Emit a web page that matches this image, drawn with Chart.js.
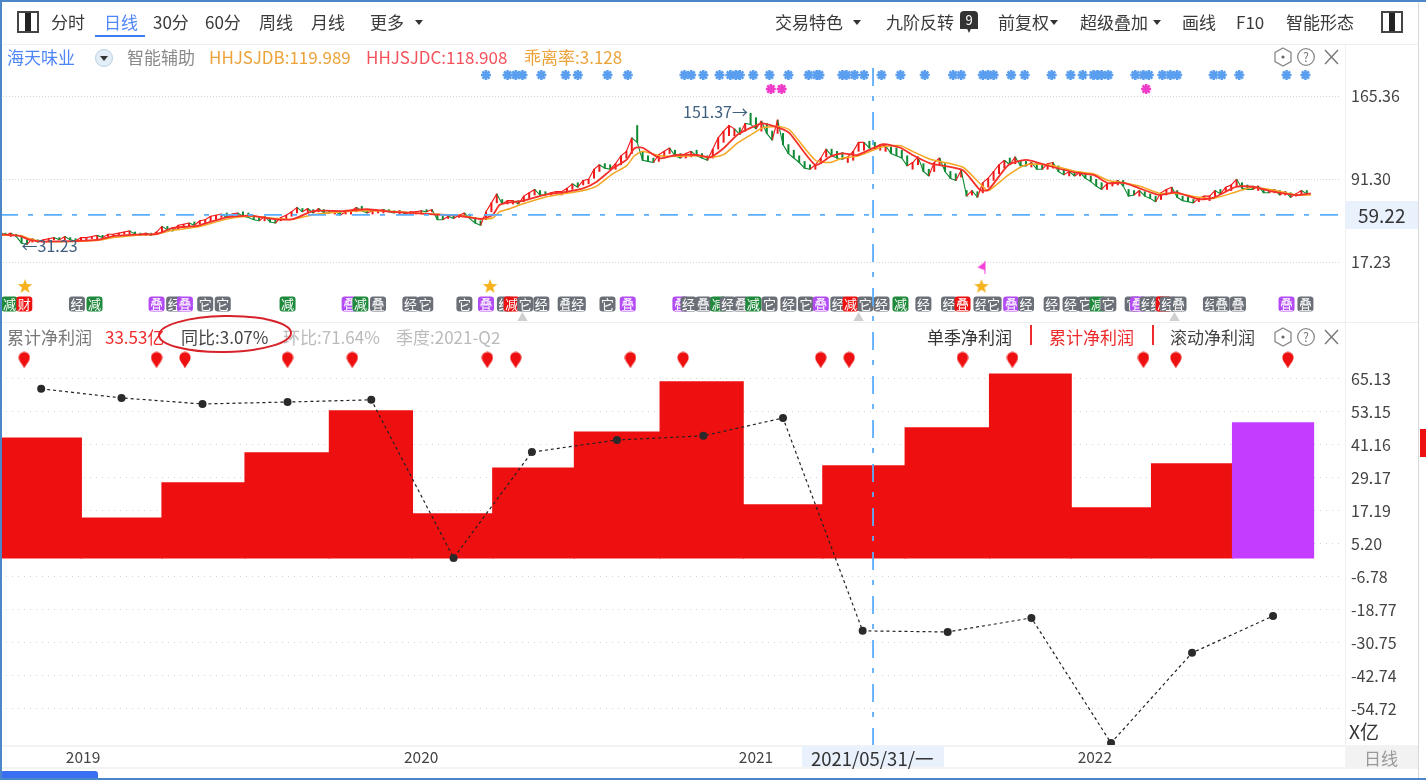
<!DOCTYPE html>
<html>
<head>
<meta charset="utf-8">
<script src="https://cdn.jsdelivr.net/npm/chart.js@4"></script>
<style>
html, body { margin: 0; padding: 0; background: #fff; }
body { width: 1426px; height: 780px; overflow: hidden; position: relative; font-family: "Noto Sans CJK SC", sans-serif; color: #3a3a3a; }
#c { position: absolute; left: 0; top: 0; }
.t { position: absolute; white-space: nowrap; line-height: 20px; height: 20px; margin-top: -10px; font-size: 17px; }
.r { position: absolute; }
.ic { position: absolute; }
</style>
</head>
<body>
<div class="r" style="left:0;top:44px;width:1418px;height:1px;background:#eeeeee"></div>
<div class="r" style="left:0;top:322px;width:1418px;height:1px;background:#eeeeee"></div>
<div class="r" style="left:0;top:745px;width:1418px;height:2px;background:#f3f3f3"></div>
<div class="r" style="left:0;top:767px;width:1418px;height:2px;background:#f3f3f3"></div>
<div class="r" style="left:1345px;top:45px;width:1px;height:700px;background:#efefef"></div>
<div class="r" style="left:1418px;top:0;width:1px;height:780px;background:#d8d8d8"></div>
<div class="r" style="left:1345px;top:201px;width:73px;height:28px;background:#e9f1fd"></div>
<div class="r" style="left:802px;top:746px;width:142px;height:21px;background:#e9f1fd"></div>
<div class="r" style="left:1345px;top:746px;width:73px;height:21px;background:#f2f2f2"></div>
<div class="r" style="left:1420px;top:429px;width:6px;height:28px;background:#ee1111"></div>
<div class="r" style="left:0;top:771px;width:98px;height:9px;background:#3a6ff2;border-radius:3px 3px 0 0"></div>
<canvas id="c" width="1426" height="780"></canvas>
<div id="labels"></div>
<div class="r" style="left:0;top:0;width:1426px;height:2px;background:#4a86c8"></div>
<div class="r" style="left:0;top:0;width:2px;height:780px;background:#4a86c8"></div>
<div class="r" style="left:0;top:778px;width:1426px;height:2px;background:#4a86c8"></div>
<svg class="ic" width="1426" height="780" style="left:0;top:0;pointer-events:none">
  <ellipse cx="225" cy="334" rx="66" ry="18" fill="none" stroke="#d8222a" stroke-width="2" transform="rotate(-1 225 334)"/>
</svg>
<script>
// x axis unit is trading days since the left edge of the chart
var yearLabels = ["2019", "2020", "2021", "2022"];
var yearDays = [61.5, 312, 560, 811];

// lower panel: 累计净利润 (bars) and 同比 (dots)
var quarterDays = [30.5, 90, 150, 213, 275, 336, 394, 457, 521, 580, 639, 702, 764, 823, 883, 943];
var profitValues = [43.6, 14.5, 27.3, 38.2, 53.5, 16, 32.7, 45.8, 64, 19.3, 33.53, 47.3, 66.9, 18.2, 34.2, 49.1];
var forecastFlags = [0, 0, 0, 0, 0, 0, 0, 0, 0, 0, 0, 0, 0, 0, 0, 1];
var yoyValues = [61.5, 58.2, 56, 56.7, 57.5, 0, 38.5, 42.9, 44.4, 50.9, -26.5, -26.9, -21.8, -67.3, -34.5, -21.1];
var profitTicks = [65.13, 53.15, 41.16, 29.17, 17.19, 5.20, -6.78, -18.77, -30.75, -42.74, -54.72];
var reportDays = [18, 116, 137, 213, 261, 361, 382, 467, 506, 608, 629, 713, 750, 847, 871, 954];

// upper panel: price
var priceTicks = [17.23, 91.30, 165.36];
var crossDay = 646.7;
var crossPrice = 59.22;

var maDays = [0, 15, 22, 32, 72, 84, 106, 116, 128, 146, 153, 168, 185, 205, 217, 232, 254, 272, 289, 321, 341, 356, 365, 370, 378, 387, 405, 417, 432, 442, 454, 464, 470, 476, 489, 501, 516, 526, 536, 546, 558, 565, 578, 585, 604, 615, 624, 635, 654, 667, 676, 689, 713, 726, 732, 747, 760, 777, 797, 810, 821, 832, 844, 859, 871, 888, 899, 916, 928, 943, 960, 971];
var maRed = [42, 40.4, 36.9, 35.4, 36.9, 40.4, 42, 42.2, 47.6, 49.4, 52, 57.1, 58.6, 55.3, 55.6, 62.7, 62.7, 64.3, 62.1, 59.8, 58.3, 55.6, 59.2, 68.1, 70.5, 71.7, 77.6, 79.4, 83, 88.9, 100.8, 108.3, 118.7, 119.2, 109.8, 112.7, 112.7, 110.7, 118.7, 130.6, 138, 141, 136.5, 132.1, 103.8, 111.2, 114.2, 112.7, 122.3, 119.2, 112.7, 105.3, 99.3, 81.5, 81.5, 103.8, 108.3, 102.9, 96.9, 94.9, 87.5, 88, 83, 77, 79.4, 73.2, 74.6, 84.4, 84.4, 80, 77, 78.5];
var maOrange = [41, 41, 38, 35.5, 36.4, 39, 41.5, 42, 45.5, 48.5, 50.5, 55.5, 58, 56, 55.3, 59.5, 62, 63, 62.6, 60, 58.8, 56, 56.5, 62, 65, 69, 75.5, 78, 81, 85, 96, 103, 112, 116, 112, 111.5, 112, 110.5, 113, 123, 132, 137, 138, 135, 108, 106, 110, 111.5, 120, 121, 116, 109, 102, 87, 81, 95, 104, 104, 98, 96, 90, 88, 85, 78.5, 78.5, 75, 74, 80, 84, 81.5, 77, 77];

var candleDays = [
  0, 4, 8, 12, 16, 20, 24, 28, 32, 36,
  40, 44, 48, 52, 56, 60, 64, 68, 72, 76,
  80, 84, 88, 92, 96, 100, 104, 108, 112, 116,
  120, 124, 128, 132, 136, 140, 144, 148, 152, 156,
  160, 164, 168, 172, 176, 180, 184, 188, 192, 196,
  200, 204, 208, 212, 216, 220, 224, 228, 232, 236,
  240, 244, 248, 252, 256, 260, 264, 268, 272, 276,
  280, 284, 288, 292, 296, 300, 304, 308, 312, 316,
  320, 324, 328, 332, 336, 340, 344, 348, 352, 356,
  360, 364, 368, 372, 376, 380, 384, 388, 392, 396,
  400, 404, 408, 412, 416, 420, 424, 428, 432, 436,
  440, 444, 448, 452, 456, 460, 464, 468, 472, 476,
  480, 484, 488, 492, 496, 500, 504, 508, 512, 516,
  520, 524, 528, 532, 536, 540, 544, 548, 552, 556,
  560, 564, 568, 572, 576, 580, 584, 588, 592, 596,
  600, 604, 608, 612, 616, 620, 624, 628, 632, 636,
  640, 644, 648, 652, 656, 660, 664, 668, 672, 676,
  680, 684, 688, 692, 696, 700, 704, 708, 712, 716,
  720, 724, 728, 732, 736, 740, 744, 748, 752, 756,
  760, 764, 768, 772, 776, 780, 784, 788, 792, 796,
  800, 804, 808, 812, 816, 820, 824, 828, 832, 836,
  840, 844, 848, 852, 856, 860, 864, 868, 872, 876,
  880, 884, 888, 892, 896, 900, 904, 908, 912, 916,
  920, 924, 928, 932, 936, 940, 944, 948, 952, 956,
  960, 964, 968
];
var candleHigh = [
  44, 43, 43, 42, 41, 37, 38, 37, 37, 38,
  39, 39, 40, 39, 38, 39, 39, 40, 41, 41,
  42, 42, 43, 44, 45, 44, 43, 43, 43, 44,
  49, 49, 48, 50, 51, 52, 53, 54, 55, 58,
  59, 60, 61, 60, 61, 62, 61, 59, 58, 58,
  56, 55, 57, 59, 62, 66, 65, 65, 64, 65,
  64, 63, 63, 62, 62, 63, 66, 67, 64, 63,
  63, 64, 64, 63, 63, 62, 62, 62, 63, 64,
  64, 60, 58, 58, 58, 59, 61, 60, 57, 54,
  62, 70, 78, 73, 72, 72, 72, 76, 79, 82,
  81, 80, 79, 80, 80, 83, 87, 88, 90, 91,
  100, 104, 105, 104, 105, 112, 116, 128, 139, 116,
  112, 110, 113, 116, 119, 117, 114, 114, 116, 117,
  114, 112, 118, 128, 134, 139, 136, 137, 141, 150,
  146, 143, 141, 134, 144, 132, 122, 117, 112, 107,
  104, 104, 110, 118, 118, 116, 115, 111, 116, 124,
  124, 125, 124, 122, 121, 120, 119, 117, 112, 106,
  111, 105, 100, 106, 110, 105, 98, 96, 99, 81,
  81, 80, 88, 92, 98, 104, 108, 110, 111, 108,
  107, 106, 105, 104, 105, 106, 103, 100, 98, 98,
  97, 96, 94, 91, 88, 87, 88, 90, 90, 82,
  81, 81, 80, 78, 76, 79, 82, 84, 81, 76,
  75, 73, 74, 76, 76, 81, 82, 84, 86, 91,
  88, 86, 85, 85, 83, 82, 82, 81, 80, 79,
  78, 81, 81
];
var candleLow = [
  41, 41, 40, 40, 34, 33, 35, 35, 35, 36,
  37, 37, 37, 37, 36, 37, 37, 38, 38, 39,
  40, 40, 41, 42, 42, 42, 41, 41, 41, 42,
  44, 46, 45, 47, 48, 49, 50, 51, 52, 54,
  55, 57, 57, 57, 58, 58, 57, 55, 54, 54,
  53, 52, 54, 55, 58, 61, 62, 62, 61, 62,
  61, 61, 60, 59, 60, 60, 62, 63, 61, 60,
  61, 61, 62, 61, 60, 60, 60, 60, 61, 62,
  62, 55, 55, 56, 56, 57, 58, 56, 52, 50,
  55, 62, 70, 69, 69, 69, 69, 71, 74, 77,
  77, 77, 77, 78, 77, 79, 82, 84, 86, 87,
  92, 98, 101, 100, 100, 104, 110, 114, 124, 108,
  107, 106, 107, 111, 114, 112, 110, 110, 111, 112,
  110, 108, 110, 118, 124, 130, 130, 131, 134, 140,
  136, 134, 132, 126, 132, 122, 114, 110, 106, 101,
  100, 100, 105, 111, 112, 110, 109, 106, 108, 116,
  117, 119, 118, 117, 116, 114, 112, 110, 103, 100,
  104, 98, 94, 98, 104, 98, 92, 90, 93, 76,
  77, 75, 79, 84, 90, 96, 101, 104, 105, 103,
  103, 102, 100, 100, 100, 101, 98, 95, 94, 94,
  94, 92, 89, 85, 82, 82, 85, 86, 85, 76,
  77, 76, 76, 74, 71, 73, 77, 79, 75, 72,
  71, 70, 71, 73, 72, 76, 78, 80, 81, 85,
  83, 82, 82, 81, 79, 79, 79, 77, 77, 75,
  76, 77, 78
];
var candleUp = [
  1, 0, 1, 0, 0, 0, 1, 0, 1, 1,
  1, 0, 1, 0, 0, 1, 1, 1, 1, 0,
  1, 1, 1, 1, 1, 0, 0, 1, 0, 1,
  1, 0, 0, 1, 1, 1, 0, 1, 1, 1,
  1, 1, 0, 1, 1, 0, 0, 0, 0, 1,
  0, 0, 1, 1, 1, 1, 0, 1, 0, 1,
  0, 0, 1, 0, 1, 1, 1, 0, 0, 1,
  1, 1, 0, 0, 1, 0, 1, 1, 1, 0,
  1, 0, 0, 1, 0, 1, 1, 0, 0, 0,
  1, 1, 1, 0, 1, 1, 0, 1, 1, 1,
  0, 0, 1, 1, 1, 1, 1, 0, 1, 1,
  1, 1, 0, 0, 1, 1, 1, 1, 0, 0,
  0, 0, 1, 1, 1, 0, 0, 1, 1, 0,
  0, 0, 1, 1, 1, 1, 1, 0, 1, 0,
  0, 1, 0, 0, 1, 0, 0, 0, 0, 0,
  0, 1, 1, 1, 0, 0, 0, 1, 1, 1,
  1, 0, 0, 1, 1, 0, 0, 0, 0, 1,
  1, 0, 0, 1, 1, 0, 0, 0, 1, 0,
  1, 0, 1, 1, 1, 1, 1, 0, 1, 0,
  0, 1, 0, 0, 1, 1, 0, 0, 1, 0,
  1, 0, 0, 0, 0, 1, 1, 1, 0, 0,
  0, 1, 0, 0, 0, 1, 1, 1, 0, 0,
  0, 0, 1, 1, 1, 1, 0, 1, 1, 1,
  0, 0, 0, 1, 0, 0, 1, 0, 1, 0,
  1, 1, 0
];

// signal rows in the price panel
var blueDays = [360, 376, 382, 387, 401, 419, 428, 450, 465, 507, 512, 521, 533, 541, 545, 548, 558, 570, 584, 599, 605, 607, 624, 627, 633, 640, 653, 667, 685, 706, 712, 728, 732, 736, 749, 759, 779, 793, 802, 810, 813, 816, 821, 841, 847, 851, 861, 867, 872, 899, 905, 918, 953, 967];
var magentaDays = [571, 579, 849];
var starDays = [18.5, 363, 727];
var flagDays = [727];
var triangleDays = [387, 636, 870];

var badgeDays = [7, 18, 57, 70, 116, 129, 137, 152, 165, 213, 259, 267, 280, 304, 315, 344, 360, 374, 379, 389, 401, 419, 428, 450, 465, 504, 510, 521, 532, 539, 549, 558, 570, 584, 597, 608, 621, 630, 641, 653, 667, 684, 703, 713, 727, 736, 749, 760, 779, 793, 804, 813, 821, 839, 843, 850, 857, 862, 865, 873, 897, 905, 917, 953, 967];
var badgeTexts = ["减", "财", "经", "减", "叠", "经", "叠", "它", "它", "减", "叠", "减", "叠", "经", "它", "它", "叠", "经", "减", "它", "经", "叠", "经", "它", "叠", "叠", "经", "叠", "减", "经", "叠", "减", "它", "经", "它", "叠", "经", "减", "它", "经", "减", "经", "经", "叠", "经", "它", "叠", "经", "经", "经", "它", "减", "它", "它", "叠", "经", "经", "减", "经", "叠", "经", "叠", "叠", "叠", "叠"];
var badgeKinds = ["g", "r", "k", "g", "p", "k", "p", "k", "k", "g", "p", "g", "k", "k", "k", "k", "p", "k", "r", "k", "k", "k", "k", "k", "p", "p", "k", "k", "g", "k", "k", "g", "k", "k", "k", "p", "k", "r", "k", "k", "g", "k", "k", "r", "k", "k", "p", "k", "k", "k", "k", "g", "k", "k", "p", "k", "k", "r", "k", "k", "k", "k", "k", "p", "k"];
var badgeColors = { g: "#1f8a3c", r: "#ee1111", k: "#6b7078", p: "#b44cf5" };

var red = "#ee1010", purple = "#c43cff", green = "#0f8a34";

function repeatValue(list, v) {
    return list.map(function(d) { return { x: d, y: v }; });
}
function makeCanvas(w, h, draw) {
    var cv = document.createElement("canvas");
    cv.width = w; cv.height = h;
    draw(cv.getContext("2d"));
    return cv;
}
var pinImg = makeCanvas(12, 17, function(g) {
    g.fillStyle = red;
    g.beginPath();
    g.arc(6, 6, 5.6, Math.PI, 0);
    g.bezierCurveTo(11.6, 10, 7.5, 13, 6, 17);
    g.bezierCurveTo(4.5, 13, 0.4, 10, 0.4, 6);
    g.fill();
});
var starImg = makeCanvas(16, 16, function(g) {
    g.fillStyle = "#f5b21c";
    g.beginPath();
    for (var i = 0; i < 10; i++) {
        var r = i % 2 ? 3.2 : 7.6, a = -Math.PI / 2 + i * Math.PI / 5;
        g.lineTo(8 + r * Math.cos(a), 8.5 + r * Math.sin(a));
    }
    g.closePath();
    g.fill();
});
var flagImg = makeCanvas(10, 13, function(g) {
    g.fillStyle = "#f23fd8";
    g.beginPath();
    g.moveTo(9, 0); g.lineTo(9, 9); g.lineTo(1, 6); g.closePath();
    g.fill();
    g.fillRect(8, 0, 1, 13);
});

var overlayPlugin = {
    id: "overlay",
    afterDatasetsDraw: function(chart) {
        var g = chart.ctx, sx = chart.scales.x, sp = chart.scales.yPrice, a = chart.chartArea;
        g.save();
        // badges
        g.textAlign = "center";
        g.textBaseline = "middle";
        g.font = "13px 'Noto Sans CJK SC'";
        badgeDays.forEach(function(d, i) {
            var x = sx.getPixelForValue(d), y = sp.getPixelForValue(-20.2);
            g.fillStyle = badgeColors[badgeKinds[i]];
            g.beginPath();
            g.roundRect(x - 8, y - 7.5, 16, 15, 3);
            g.fill();
            g.fillStyle = "#fff";
            g.fillText(badgeTexts[i], x, y);
        });
        // high and low notes
        g.fillStyle = "#3f5f7f";
        g.font = "16px 'Noto Sans CJK SC'";
        g.textAlign = "right";
        g.fillText("151.37→", sx.getPixelForValue(554), sp.getPixelForValue(151.37));
        g.textAlign = "left";
        g.fillText("←31.23", sx.getPixelForValue(16), sp.getPixelForValue(31.23));
        // crosshair
        g.strokeStyle = "#5aaefb";
        g.lineWidth = 1.8;
        g.setLineDash([18, 10, 5, 11]);
        g.beginPath();
        g.moveTo(a.left, sp.getPixelForValue(crossPrice));
        g.lineTo(a.right, sp.getPixelForValue(crossPrice));
        g.moveTo(sx.getPixelForValue(crossDay), 68);
        g.lineTo(sx.getPixelForValue(crossDay), a.bottom);
        g.stroke();
        g.restore();
    }
};

var candles = candleDays.map(function(d, i) { return { x: d, y: [candleLow[i], candleHigh[i]] }; });
var closes = candleDays.map(function(d, i) { return { x: d, y: candleUp[i] ? candleHigh[i] : candleLow[i] }; });

var chart = new Chart(document.getElementById("c"), {
    type: "bar",
    plugins: [overlayPlugin],
    data: {
        datasets: [
            {
                type: "bar", label: "累计净利润", yAxisID: "yProfit", order: 9,
                data: quarterDays.map(function(d, i) { return { x: d, y: profitValues[i] }; }),
                backgroundColor: forecastFlags.map(function(f) { return f ? purple : red; }),
                barThickness: "flex", barPercentage: 1, categoryPercentage: 1, inflateAmount: 0.6
            },
            {
                type: "line", label: "同比", yAxisID: "yProfit", order: 2,
                data: quarterDays.map(function(d, i) { return { x: d, y: yoyValues[i] }; }),
                borderColor: "#222", borderWidth: 1.2, borderDash: [3, 3], tension: 0,
                pointRadius: 4, pointBackgroundColor: "#2a2a2a", pointBorderWidth: 0
            },
            {
                type: "bar", label: "K线", yAxisID: "yPrice", order: 8, grouped: false,
                data: candles, maxBarThickness: 2.4, barPercentage: 1, categoryPercentage: 1,
                backgroundColor: candleUp.map(function(u) { return u ? "#f01818" : green; })
            },
            {
                type: "line", label: "收盘", yAxisID: "yPrice", order: 7, tension: 0,
                data: closes, borderWidth: 1.1, pointRadius: 0, borderColor: "#f01818",
                segment: { borderColor: function(ctx) { return candleUp[ctx.p1DataIndex] ? "#f01818" : green; } }
            },
            {
                type: "line", label: "HHJSJDC", yAxisID: "yPrice", order: 5, tension: 0.2,
                data: maDays.map(function(d, i) { return { x: d, y: maOrange[i] }; }),
                borderColor: "#f5a623", borderWidth: 1.5, pointRadius: 0
            },
            {
                type: "line", label: "HHJSJDB", yAxisID: "yPrice", order: 4, tension: 0.2,
                data: maDays.map(function(d, i) { return { x: d, y: maRed[i] }; }),
                borderColor: "#f5302a", borderWidth: 1.8, pointRadius: 0
            },
            {
                type: "scatter", label: "信号", yAxisID: "yPrice", order: 3,
                data: repeatValue(blueDays, 184.1),
                pointStyle: "star", pointRadius: 5, borderWidth: 2.5, borderColor: "#5a9ef0"
            },
            {
                type: "scatter", label: "信号2", yAxisID: "yPrice", order: 3,
                data: repeatValue(magentaDays, 171.6),
                pointStyle: "star", pointRadius: 5, borderWidth: 2.5, borderColor: "#f03cc8"
            },
            {
                type: "scatter", label: "星", yAxisID: "yPrice", order: 3,
                data: repeatValue(starDays, -4.2), pointStyle: starImg, pointRadius: 6
            },
            {
                type: "scatter", label: "旗", yAxisID: "yPrice", order: 3,
                data: repeatValue(flagDays, 11.9), pointStyle: flagImg, pointRadius: 6
            },
            {
                type: "scatter", label: "三角", yAxisID: "yPrice", order: 3,
                data: repeatValue(triangleDays, -32.7), pointStyle: "triangle", pointRadius: 6,
                backgroundColor: "#cfcfcf", borderWidth: 0
            },
            {
                type: "scatter", label: "财报", yAxisID: "yProfit", order: 3,
                data: repeatValue(reportDays, 72), pointStyle: pinImg, pointRadius: 6
            }
        ]
    },
    options: {
        responsive: false,
        animation: false,
        events: [],
        layout: { autoPadding: false, padding: { top: 45, bottom: 10 } },
        plugins: { legend: { display: false }, tooltip: { enabled: false } },
        scales: {
            x: {
                type: "linear", min: 0, max: 992.6, offset: false,
                grid: { display: false, drawTicks: false },
                border: { display: false },
                afterFit: function(s) { s.height = 25; s.paddingLeft = 0; s.paddingRight = 0; },
                afterBuildTicks: function(s) { s.ticks = yearDays.map(function(d) { return { value: d }; }); },
                ticks: {
                    autoSkip: false, maxRotation: 0, padding: 3, color: "#444",
                    font: { family: "'Noto Sans CJK SC'", size: 15.5 },
                    callback: function(v) { return yearLabels[yearDays.indexOf(v)]; }
                }
            },
            yPrice: {
                type: "linear", position: "right", stack: "panes", stackWeight: 277, weight: 1,
                min: -36.3, max: 210.87,
                afterFit: function(s) { s.width = 86; },
                afterBuildTicks: function(s) { s.ticks = priceTicks.map(function(v) { return { value: v }; }); },
                grid: { color: "#d4d4d4", drawTicks: false },
                border: { display: false, dash: [1, 2] },
                ticks: {
                    autoSkip: false, padding: 11, color: "#444",
                    font: { family: "'Noto Sans CJK SC'", size: 16 },
                    callback: function(v) { return v.toFixed(2); }
                }
            },
            yProfit: {
                type: "linear", position: "right", stack: "panes", stackWeight: 423, weight: 2,
                min: -68, max: 85.8,
                afterFit: function(s) { s.width = 86; },
                afterBuildTicks: function(s) { s.ticks = profitTicks.map(function(v) { return { value: v }; }); },
                grid: { color: "#d4d4d4", drawTicks: false },
                border: { display: false, dash: [1, 5] },
                ticks: {
                    autoSkip: false, padding: 11, color: "#444",
                    font: { family: "'Noto Sans CJK SC'", size: 16 },
                    callback: function(v) { return v.toFixed(2); }
                }
            }
        }
    }
});

// toolbar and panel headers
var texts = [
    [51, 22, "分时"], [104, 22, "日线", "#4f86f7"], [153, 22, "30分"], [205, 22, "60分"], [259, 22, "周线"], [311, 22, "月线"], [370, 22, "更多"],
    [775, 22, "交易特色"], [886, 22, "九阶反转"], [998, 22, "前复权"], [1080, 22, "超级叠加"], [1182, 22, "画线"], [1236, 22, "F10"], [1286, 22, "智能形态"],
    [7, 57, "海天味业", "#4f86f7"], [127, 57, "智能辅助", "#8a8a8a"],
    [209, 57, "HHJSJDB:119.989", "#eda23a"], [366, 57, "HHJSJDC:118.908", "#f4525c"], [524, 57, "乖离率:3.128", "#eda23a"],
    [7, 337, "累计净利润", "#777"], [105, 337, "33.53亿", "#ee2a2a"], [181, 337, "同比:3.07%", "#444"], [283, 337, "环比:71.64%", "#bbb"], [396, 337, "季度:2021-Q2", "#bbb"],
    [927, 337, "单季净利润", "#333"], [1049, 337, "累计净利润", "#ee2a2a"], [1170, 337, "滚动净利润", "#444"],
    [1358, 215, "59.22", "#333", 19], [811, 758, "2021/05/31/一", "#333", 18.5], [1364, 758, "日线", "#999"], [1349, 731, "X亿", "#333", 19]
];
var carets = [[419, 22], [857, 22], [1054, 22], [1157, 22]];
var dividers = [1030, 1152];
var panelIconRows = [57, 337];

var box = document.getElementById("labels"), html = "";
texts.forEach(function(t) {
    html += '<div class="t" style="left:' + t[0] + 'px;top:' + t[1] + 'px;font-size:' + (t[4] || 17) + 'px;color:' + (t[3] || "#3a3a3a") + '">' + t[2] + '</div>';
});
carets.forEach(function(c) {
    html += '<div class="r" style="left:' + (c[0] - 4) + 'px;top:' + (c[1] - 2) + 'px;width:0;height:0;border:4.5px solid transparent;border-top:5px solid #333;border-bottom:0"></div>';
});
dividers.forEach(function(x) {
    html += '<div class="r" style="left:' + x + 'px;top:325px;width:2px;height:20px;background:#ee2a2a"></div>';
});
panelIconRows.forEach(function(y) {
    html += '<svg class="ic" style="left:1272px;top:' + (y - 10) + 'px" width="70" height="20">' +
        '<path d="M11 1 L19 5.5 L19 14.5 L11 19 L3 14.5 L3 5.5 Z" fill="none" stroke="#888" stroke-width="1.3"/><circle cx="11" cy="10" r="1.6" fill="#666"/>' +
        '<circle cx="34" cy="10" r="8.3" fill="none" stroke="#888" stroke-width="1.3"/><text x="34" y="14.5" font-size="12.5" text-anchor="middle" fill="#777">?</text>' +
        '<path d="M53 3 L66 17 M66 3 L53 17" stroke="#777" stroke-width="1.4"/></svg>';
});
// window buttons and small icons
html += '<div class="r" style="left:17px;top:11px;width:18px;height:18px;border:2px solid #444"><div class="r" style="left:6px;top:0;width:6px;height:18px;background:#222"></div></div>';
html += '<div class="r" style="left:1381px;top:11px;width:18px;height:18px;border:2px solid #444"><div class="r" style="left:6px;top:0;width:6px;height:18px;background:#222"></div></div>';
html += '<div class="r" style="left:95px;top:35px;width:50px;height:2px;background:#3d7bf5"></div>';
html += '<div class="r" style="left:95px;top:49px;width:16px;height:16px;border-radius:50%;background:#e3edf7;border:1px solid #b9cfe4"><div class="r" style="left:4px;top:6px;width:0;height:0;border:4px solid transparent;border-top:5px solid #333;border-bottom:0"></div></div>';
html += '<div class="r" style="left:960px;top:11px;width:18px;height:22px;background:#333;border-radius:4px;color:#fff;font-size:13px;line-height:18px;text-align:center;clip-path:polygon(0 0,100% 0,100% 82%,60% 82%,50% 100%,40% 82%,0 82%)">9</div>';
box.innerHTML = html;
</script>
</body>
</html>
